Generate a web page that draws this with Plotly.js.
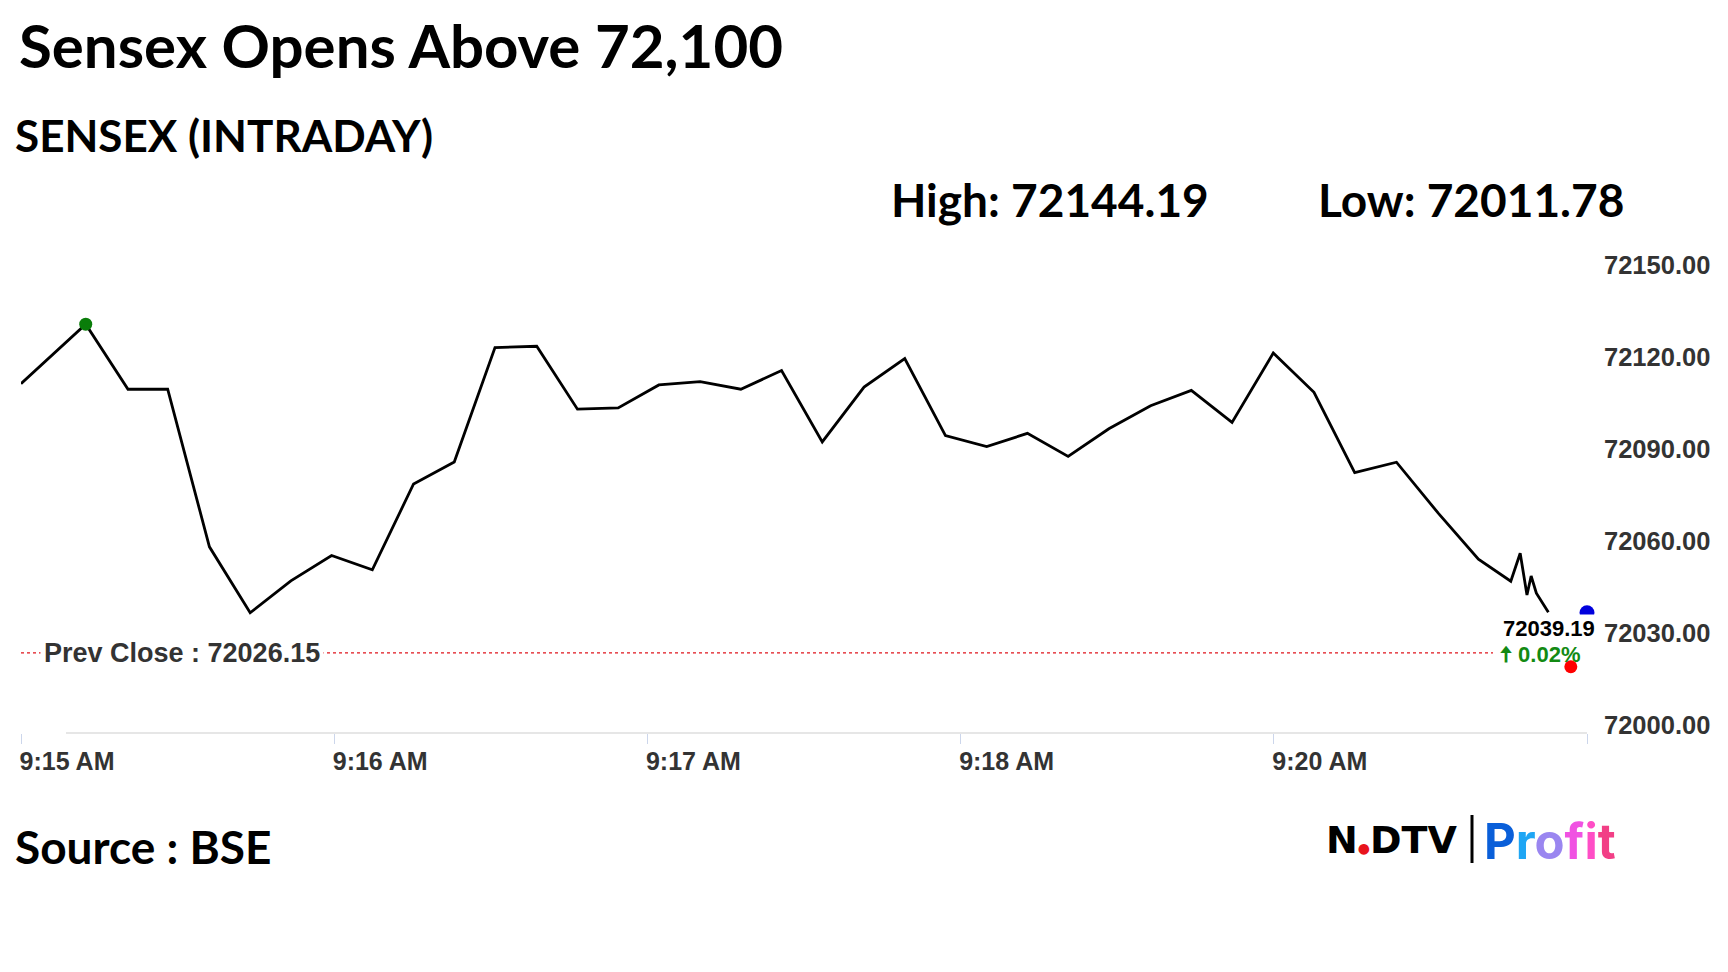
<!DOCTYPE html>
<html>
<head>
<meta charset="utf-8">
<script src="https://cdn.plot.ly/plotly-3.0.1.min.js"></script>
<style>
  html, body { margin: 0; padding: 0; background: #ffffff; }
  #chart { width: 1728px; height: 972px; }
</style>
</head>
<body>
<div id="chart"></div>
<script>
// ---- Data ----
// seconds after 9:15 AM (axis is labelled by the chart's own tick texts)
const times = [0, 12.4, 20.5, 28.1, 36.1, 43.9, 51.7, 59.5, 67.3, 75.2, 83.0, 90.8, 98.8, 106.6,
  114.4, 122.2, 130.1, 137.9, 145.7, 153.5, 161.5, 169.3, 177.1, 185.0, 192.8, 200.6, 208.4,
  216.4, 224.2, 232.0, 239.9, 247.7, 255.5, 263.5, 271.5, 279.2, 285.4, 287.2, 288.5, 289.3,
  290.3, 292.6];
const values = [72113.9, 72133.3, 72112.1, 72112.1, 72060.7, 72039.2, 72049.6, 72057.9, 72053.2,
  72081.2, 72088.4, 72125.7, 72126.1, 72105.6, 72106.0, 72113.5, 72114.6, 72112.1, 72118.2,
  72094.9, 72112.8, 72122.1, 72097.0, 72093.4, 72097.7, 72090.2, 72099.2, 72106.7, 72111.7,
  72101.3, 72123.9, 72111.1, 72084.9, 72088.3, 72071.7, 72056.7, 72049.5, 72058.6, 72045.0,
  72051.2, 72045.6, 72039.4];

const highTime = [12.4];
const highValue = [72133.3];
const lastTime = [300];
const lastValue = [72039.19];
const redTime = [296.9];
const redValue = [72021.6];

const prevClose = 72026.15;
const prevCloseEnd = 282;
const changePct = "0.02%";
const dayHigh = "72144.19";
const dayLow = "72011.78";

const xTickVals = [0, 60, 120, 180, 240, 300];
const xTickText = ["9:15 AM", "9:16 AM", "9:17 AM", "9:18 AM", "9:20 AM", ""];
const yTickVals = [72000, 72030, 72060, 72090, 72120, 72150];

// ---- Layout helpers (pixel -> paper) ----
const W = 1728, H = 972;
const M = { l: 21, r: 141, t: 273, b: 239 };
const PW = W - M.l - M.r, PH = H - M.t - M.b;
const px = x => (x - M.l) / PW;
const py = y => (H - M.b - y) / PH;

const ARIAL = "Liberation Sans, Arial, sans-serif";
const LATO = "Lato, Carlito, Calibri, sans-serif";

const traces = [
  {
    x: times, y: values, type: "scatter", mode: "lines",
    line: { color: "#000000", width: 2.8 }, hoverinfo: "skip"
  },
  {
    x: highTime, y: highValue, type: "scatter", mode: "markers",
    marker: { color: "#0a7d0a", size: 13 }, hoverinfo: "skip", cliponaxis: false
  },
  {
    x: lastTime, y: lastValue, type: "scatter", mode: "markers",
    marker: { color: "#0000dd", size: 15 }, hoverinfo: "skip", cliponaxis: false
  },
  {
    x: redTime, y: redValue, type: "scatter", mode: "markers",
    marker: { color: "#ff0000", size: 13 }, hoverinfo: "skip", cliponaxis: false
  }
];

function headerText(text, x, y, size, extra) {
  return Object.assign({
    text: text, xref: "paper", yref: "paper", x: px(x), y: py(y),
    xanchor: "left", yanchor: "middle", showarrow: false,
    font: { family: LATO, size: size, color: "#000000", weight: 700 }
  }, extra || {});
}

const profitColors = ["#0a5fd9", "#1fa6f4", "#9a86f0", "#f052e2", "#ff4ec6", "#f23f86"];
const profitHTML = "Profit".split("").map((c, i) =>
  '<span style="color:' + profitColors[i] + '">' + c + '</span>').join("");

const annotations = [
  headerText("Sensex Opens Above 72,100", 17, 45.5, 60),
  headerText("SENSEX (INTRADAY)", 13, 135.5, 44),
  headerText("High: " + dayHigh, 889, 199, 46),
  headerText("Low: " + dayLow, 1316, 199, 46),
  headerText("Source : BSE", 13, 846, 46),
  {
    text: 'N<span style="color:#e8141c;font-size:14px">●</span>DTV',
    xref: "paper", yref: "paper", x: px(1324), y: py(840),
    xanchor: "left", yanchor: "middle", showarrow: false,
    font: { family: "DejaVu Sans, sans-serif", size: 38, color: "#000000", weight: 700 }
  },
  {
    text: profitHTML, xref: "paper", yref: "paper", x: px(1482), y: py(841),
    xanchor: "left", yanchor: "middle", showarrow: false,
    font: { family: "Inter, sans-serif", size: 49, weight: 700 }
  },
  // prev close label on the dotted line
  {
    text: "Prev Close : " + prevClose.toFixed(2), xref: "x", yref: "y", x: 0, y: prevClose,
    xanchor: "left", yanchor: "middle", xshift: 19, showarrow: false,
    bgcolor: "#ffffff", borderpad: 3,
    font: { family: ARIAL, size: 27, color: "#333333", weight: 700 }
  },
  // last value label
  {
    text: lastValue[0].toFixed(2), xref: "x", yref: "y", x: lastTime[0], y: lastValue[0],
    xanchor: "right", yanchor: "top", xshift: 10, yshift: -1, showarrow: false,
    bgcolor: "#ffffff", borderpad: 1,
    font: { family: ARIAL, size: 22, color: "#000000", weight: 700 }
  },
  {
    text: "<b>🠅</b> " + changePct, xref: "x", yref: "y", x: lastTime[0], y: lastValue[0],
    xanchor: "right", yanchor: "middle", xshift: -4, yshift: -42, showarrow: false,
    font: { family: ARIAL, size: 22, color: "#138a13", weight: 700 }
  }
];

const shapes = [
  {
    type: "line", xref: "x", yref: "y", x0: 0, x1: prevCloseEnd, y0: prevClose, y1: prevClose,
    line: { color: "#e0141c", width: 1.2, dash: "dot" }, layer: "below"
  },
  {
    type: "line", xref: "paper", yref: "paper", x0: px(66), x1: 1, y0: 0, y1: 0,
    line: { color: "#e6e6e6", width: 2 }, layer: "below"
  },
  {
    type: "line", xref: "paper", yref: "paper", x0: px(1472), x1: px(1472), y0: py(815), y1: py(863),
    line: { color: "#000000", width: 3 }
  }
];

const layout = {
  width: W, height: H,
  margin: M,
  paper_bgcolor: "#ffffff", plot_bgcolor: "#ffffff",
  showlegend: false,
  xaxis: {
    range: [0, 300], fixedrange: true,
    tickmode: "array", tickvals: xTickVals, ticktext: xTickText,
    ticks: "outside", ticklen: 10, tickcolor: "#ccd6eb", tickwidth: 1,
    showgrid: false, zeroline: false, showline: false,
    ticklabelshift: 46, ticklabelstandoff: -4,
    tickfont: { family: ARIAL, size: 25, color: "#333333", weight: 700 }
  },
  yaxis: {
    range: [72000, 72150], fixedrange: true, side: "right",
    tickmode: "array", tickvals: yTickVals, tickformat: ".2f",
    ticks: "", showgrid: false, zeroline: false, showline: false,
    ticklabelshift: -8, ticklabelstandoff: 16,
    tickfont: { family: ARIAL, size: 25.5, color: "#333333", weight: 700 }
  },
  annotations: annotations,
  shapes: shapes
};

Plotly.newPlot("chart", traces, layout, { displayModeBar: false, staticPlot: true });
</script>
</body>
</html>
